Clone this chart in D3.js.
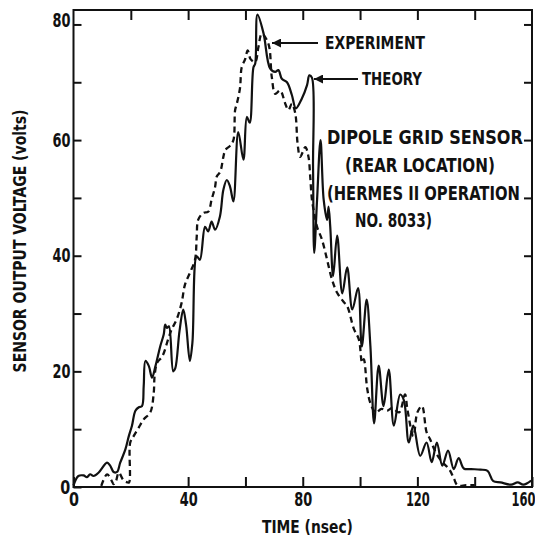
<!DOCTYPE html>
<html>
<head>
<meta charset="utf-8">
<script src="https://cdn.jsdelivr.net/npm/d3@7.9.0/dist/d3.min.js"></script>
<style>
  body { margin: 0; background: #fff; }
  svg { display: block; }
  text { font-family: "Liberation Sans Narrow", "DejaVu Sans Condensed", "Arial Narrow", sans-serif; font-weight: bold; fill: #111; }
</style>
</head>
<body>
<svg width="535" height="542"></svg>
<script>
// theory (solid) trace, time in nsec / volts
const theoryTime = [0, 1.7, 3.5, 4.7, 5.8, 7, 8.8, 11.7, 12.8, 14, 15.2, 16.3, 18.1, 19.3, 20.4, 21.6, 22.8, 23.9,
  24.5, 25.1, 26.3, 27.4, 28.6, 30.3, 31.5, 32, 32.6, 33.3, 34.8, 35.5, 37, 38.3, 39.3, 40.6, 41.5, 43, 44.1,
  45.9, 47, 48.2, 49.4, 51.1, 52.3, 53.5, 54.6, 55.8, 57.5, 59.3, 60.5, 61.5, 62.8, 63.4, 64.2, 66.3, 68.6,
  70.4, 71.5, 72.7, 74.5, 76.2, 77.6, 79.7, 81.5, 82.3, 83.2, 83.6, 84, 85, 86.2, 87.3, 88.5, 89, 89.6, 90.6,
  92, 93.8, 95.5, 97.3, 99.3, 100.6, 102.3, 103.6, 104.9, 106.5, 108.2, 110, 111.8, 114, 115.3, 117, 118.6,
  121, 123.2, 125, 126.8, 128.7, 130.7, 132.7, 134.4, 136.2, 138.7, 142, 144.5, 146.5, 149, 152.7, 155, 157,
  159.7];
const theoryVolts = [0.3, 1.9, 2.0, 1.7, 2.2, 1.9, 2.5, 4.2, 3.7, 2.6, 2.6, 4.2, 6.5, 8.8, 10.6, 13.2, 13.8, 14.0,
  17.5, 21.8, 20.9, 18.9, 20.9, 24.4, 26.4, 28.1, 27.5, 27.8, 20, 20.5, 27, 30.7, 28, 21.8, 25, 39.9, 39.3,
  45, 44.2, 45.9, 44.5, 46.8, 51.4, 53.1, 52, 49.4, 61.4, 56.6, 64, 63, 72.6, 73.2, 81.7, 78.5, 72.4,
  71.8, 72.1, 70.6, 70.0, 67.8, 65.5, 67.2, 69.5, 71.2, 70.8, 55, 40.5, 49.7, 60, 49.7, 46.2, 48.5, 45, 36.5,
  43.5, 33.5, 38, 30.7, 34.4, 24.3, 32.4, 24.4, 11, 21, 14, 20.3, 10.6, 16, 15, 7.7, 10.6,
  5.4, 7.7, 4.3, 7.7, 3.7, 6.3, 3.1, 5, 3.2, 3.1, 3.0, 2.8, 1.0, 0.8, 0.4, 0.8, 0.4,
  1.1];

// experiment (dashed) trace
const experimentTime = [9.7, 11.7, 13.2, 14, 14.8, 15.8, 17.5, 18.8, 19.4, 19.8, 21, 22.8, 24.5, 26.8, 28, 28.3,
  29.2, 31, 33, 34.2, 36, 37.7, 38.9, 40.6, 42.4, 43, 43.5, 45.3, 47, 48.2, 49.4, 50, 51.2, 52.3, 53, 54.6,
  55.8, 56.4, 57, 58.1, 58.7, 59.9, 60.8, 61.8, 63.4, 64.5, 65.7, 68, 69.2, 70.4, 72.1, 73.9, 75, 76.2, 77.4,
  78.2, 79.1, 80.9, 82, 82.6, 83.2, 83.8, 85, 86.7, 88.5, 90.2, 92, 94.3, 95.5, 97.8, 99.6, 100.7, 101.3,
  102.5, 103.6, 105.4, 107.5, 109.5, 111.2, 113.6, 115.7, 116.5, 118.6, 120, 121.6, 123.2, 124.4, 126.4,
  128.7, 131.1, 132.8, 134, 137, 140];
const experimentVolts = [0.2, 2.2, 1.2, 0.5, 1.0, 2.5, 1.1, 0.8, 0.8, 7.7, 8.8, 10.3, 11.7, 12.9, 16.3, 19.2,
  21.5, 22.6, 25.5, 27.2, 29, 31.8, 35, 37, 39.3, 43.3, 46.2, 47.4, 47.6, 49.7, 51.9, 53.7, 54.5, 57.1, 58.3, 59,
  60, 65.2, 66.3, 69, 72.6, 74, 75.5, 74, 73.5, 76, 78.4, 76.7, 70.9, 68, 68.6, 66.3, 65.2, 66.3, 64.6,
  59.4, 57.1, 58.8, 57.1, 53.7, 49.7, 47.9, 45, 42.8, 39.3, 35.9, 33.6, 32, 31.3, 27.4, 25.5, 21.5, 22.1,
  17, 14.5, 12.9, 13.5, 13.2, 13.7, 12.9, 16, 13.5, 8.8, 12.9, 14, 9.5, 8.3, 6.0,
  4.3, 3.1, 1.4, 0.3, 0.3, 0.3];

const xTicks = [0, 40, 80, 120, 160];
const yTicks = [0, 20, 40, 60, 80];

const svg = d3.select('svg');
const x = d3.scaleLinear().domain([0, 160]).range([73.5, 532]);
const y = d3.scaleLinear().domain([0, 82.5]).range([487, 10]);

const toPoints = (ts, vs) => ts.map((t, i) => [t, vs[i]]);
const line = d3.line()
  .x(d => x(d[0]))
  .y(d => y(d[1]))
  .curve(d3.curveCatmullRom.alpha(0.5));

// squeeze a text horizontally to a target width (the lettering is condensed)
function squeeze(node, w) {
  const natural = node.getComputedTextLength();
  return natural ? Math.min(1, w / natural) : 1;
}

// narrow digits like the original lettering
const narrow = (sel, shift = () => 0) => sel
  .attr('font-size', 19)
  .attr('transform', function (d) {
    const n = this.textContent.length;
    if (!n) return null;
    const s = squeeze(this, [0, 10, 18, 24][n]);
    return `translate(${shift(d)},0) scale(${s},1)`;
  });

// axes, ticks pointing inward
svg.append('g')
  .attr('transform', `translate(0,${y(0)})`)
  .call(d3.axisBottom(x)
    .tickValues([0, 40, 60, 80, 100, 120, 140, 160])
    .tickSize(-10).tickPadding(6)
    .tickFormat(d => xTicks.includes(d) ? d : ''))
  .selectAll('text').call(narrow, d => d === 160 ? -9 : 0);

svg.append('g')
  .attr('transform', `translate(${x(0)},0)`)
  .call(d3.axisLeft(y)
    .tickValues(d3.range(0, 81, 10))
    .tickSize(-8).tickPadding(4)
    .tickFormat(d => yTicks.includes(d) ? d : ''))
  .selectAll('text').call(narrow)
  .attr('dy', d => d === 80 ? '0.1em' : '0.32em');

svg.append('g')
  .attr('transform', `translate(0,${y.range()[1]})`)
  .call(d3.axisTop(x).tickValues(d3.range(20, 160, 20)).tickSize(-10).tickFormat(''));

svg.append('g')
  .attr('transform', `translate(${x(160)},0)`)
  .call(d3.axisRight(y).tickValues(d3.range(10, 81, 10)).tickSize(-8).tickFormat(''));

svg.selectAll('.domain').remove();
svg.selectAll('.tick line').attr('stroke', '#111').attr('stroke-width', 2);
svg.selectAll('.tick text').attr('fill', '#111');

svg.append('rect')
  .attr('x', x(0)).attr('y', y.range()[1])
  .attr('width', x(160) - x(0)).attr('height', y(0) - y.range()[1])
  .attr('fill', 'none').attr('stroke', '#111').attr('stroke-width', 2);

// curves
svg.append('path')
  .datum(toPoints(experimentTime, experimentVolts))
  .attr('d', line)
  .attr('fill', 'none').attr('stroke', '#111')
  .attr('stroke-width', 2.3).attr('stroke-dasharray', '6,4');

svg.append('path')
  .datum(toPoints(theoryTime, theoryVolts))
  .attr('d', line)
  .attr('fill', 'none').attr('stroke', '#111')
  .attr('stroke-width', 2.2);

// annotation arrows
svg.append('defs').append('marker')
  .attr('id', 'head')
  .attr('viewBox', '0 0 10 10')
  .attr('refX', 0).attr('refY', 5)
  .attr('markerWidth', 11).attr('markerHeight', 9)
  .attr('markerUnits', 'userSpaceOnUse')
  .attr('orient', 'auto')
  .append('path').attr('d', 'M0,5L10,0L10,10Z').attr('fill', '#111');

svg.append('line')
  .attr('x1', 272).attr('y1', 43).attr('x2', 318).attr('y2', 43)
  .attr('stroke', '#111').attr('stroke-width', 2).attr('marker-start', 'url(#head)');
svg.append('line')
  .attr('x1', 314).attr('y1', 79).attr('x2', 358).attr('y2', 79)
  .attr('stroke', '#111').attr('stroke-width', 2).attr('marker-start', 'url(#head)');

function label(txt, x0, yc, w, size) {
  const t = svg.append('text')
    .attr('dy', '0.36em')
    .attr('font-size', size)
    .text(txt);
  const s = squeeze(t.node(), w);
  t.attr('transform', `translate(${x0},${yc}) scale(${s},1)`);
  return t;
}

label('EXPERIMENT', 325, 43, 100, 18);
label('THEORY', 362, 79, 60, 18);
label('DIPOLE GRID SENSOR', 327, 137, 196, 19);
label('(REAR LOCATION)', 345, 165, 150, 19);
label('(HERMES II OPERATION', 327, 193, 193, 19);
label('NO. 8033)', 355, 220, 77, 19);
label('TIME (nsec)', 262, 527, 91, 18);

const ylab = svg.append('text')
  .attr('text-anchor', 'middle').attr('dy', '0.36em')
  .attr('font-size', 18)
  .text('SENSOR OUTPUT VOLTAGE (volts)');
ylab.attr('transform', `translate(20,241) rotate(-90) scale(${squeeze(ylab.node(), 263)},1)`);
</script>
</body>
</html>
